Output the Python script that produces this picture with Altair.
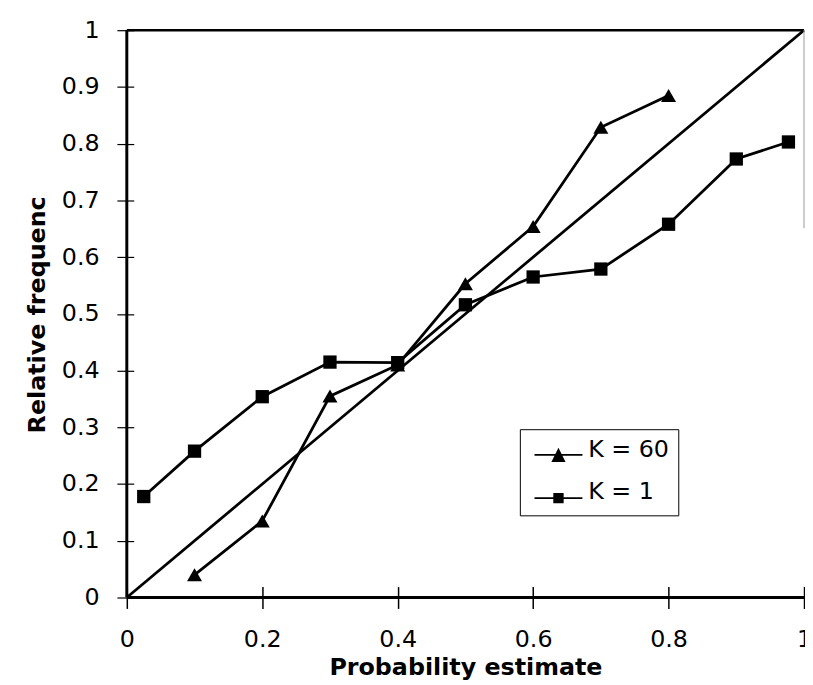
import altair as alt
import pandas as pd

# ---- data ----
series_names = ["K = 60", "K = 1"]
k60_x = [0.1, 0.2, 0.3, 0.4, 0.5, 0.6, 0.7, 0.8]
k60_y = [0.04, 0.135, 0.355, 0.41, 0.553, 0.654, 0.829, 0.885]
k1_x = [0.025, 0.1, 0.2, 0.3, 0.4, 0.5, 0.6, 0.7, 0.8, 0.9, 0.977]
k1_y = [0.178, 0.258, 0.354, 0.415, 0.414, 0.516, 0.565, 0.579, 0.658, 0.773, 0.803]
diag_x = [0, 1]
diag_y = [0, 1]
x_ticks = [0, 0.2, 0.4, 0.6, 0.8, 1]
y_ticks = [0, 0.1, 0.2, 0.3, 0.4, 0.5, 0.6, 0.7, 0.8, 0.9, 1]

df = pd.concat([
    pd.DataFrame({"x": k60_x, "y": k60_y, "series": series_names[0]}),
    pd.DataFrame({"x": k1_x, "y": k1_y, "series": series_names[1]}),
], ignore_index=True)
diag = pd.DataFrame({"x": diag_x, "y": diag_y})

W, H = 684, 573
FONT = "DejaVu Sans"

xs = alt.Scale(domain=[0, 1], nice=False, zero=False)
ys = alt.Scale(domain=[0, 1], nice=False, zero=False)

x_axis = alt.Axis(
    values=x_ticks, format="~g", title="Probability estimate",
    offset=-11, tickSize=22, tickColor="black", tickWidth=1.5,
    domain=False, grid=False, labelFlush=False,
    labelFont=FONT, labelFontSize=24, labelColor="black", labelPadding=19,
    titleFont=FONT, titleFontSize=24, titleFontWeight="bold", titleColor="black",
    titleBaseline="alphabetic", titleY=89,
)
y_axis = alt.Axis(
    values=y_ticks, format="~g", title="Relative frequenc",
    offset=-7, tickSize=17, tickColor="black", tickWidth=1.2,
    domain=False, grid=False, labelFlush=False,
    labelFont=FONT, labelFontSize=24, labelColor="black", labelPadding=18,
    titleFont=FONT, titleFontSize=24, titleFontWeight="bold", titleColor="black",
    titleAngle=270, titleBaseline="alphabetic", titleX=-90, titleY=287,
)

X = alt.X("x:Q", scale=xs, axis=x_axis)
Y = alt.Y("y:Q", scale=ys, axis=y_axis)

diag_line = alt.Chart(diag).mark_line(color="black", strokeWidth=2.8).encode(
    x=alt.X("x:Q", scale=xs), y=alt.Y("y:Q", scale=ys))

lines = alt.Chart(df).mark_line(color="black", strokeWidth=2.8).encode(
    x=X, y=Y, detail="series:N", order="x:Q")

tri_pts = alt.Chart(df).transform_filter(
    alt.datum.series == series_names[0]
).mark_point(shape="triangle-up", filled=True, size=230, opacity=1, color="black").encode(
    x=alt.X("x:Q", scale=xs), y=alt.Y("y:Q", scale=ys))

sq_pts = alt.Chart(df).transform_filter(
    alt.datum.series == series_names[1]
).mark_point(shape="square", filled=True, size=180, opacity=1, color="black").encode(
    x=alt.X("x:Q", scale=xs), y=alt.Y("y:Q", scale=ys))

# legend symbols: thin filled bar (the line) plus the marker
tri_path = "M-4.4,0.75H4.4V1.05H-4.4ZM-1.3,2.2L0,-0.4L1.3,2.2Z"
sq_path = "M-4.4,1.05H4.4V1.35H-4.4ZM-0.95,0.25H0.95V2.15H-0.95Z"

legend_layer = alt.Chart(pd.DataFrame({"series": series_names})).mark_point(
    filled=True, opacity=0, size=121, color="black"
).encode(
    shape=alt.Shape(
        "series:N",
        scale=alt.Scale(domain=series_names, range=[tri_path, sq_path]),
        legend=alt.Legend(
            title=None, orient="none", legendX=397, legendY=403,
            padding=9, rowPadding=14, symbolOffset=18, labelOffset=18,
            symbolSize=121, symbolOpacity=1, symbolFillColor="black",
            labelFont=FONT, labelFontSize=24, labelColor="black",
            strokeColor="black", fillColor="white",
        ),
    )
)

one = pd.DataFrame({"a": [0]})
frame_left = alt.Chart(one).mark_rule(color="black", strokeWidth=3).encode(
    x=alt.value(0), y=alt.value(0), y2=alt.value(H))
frame_bottom = alt.Chart(one).mark_rule(color="black", strokeWidth=3).encode(
    x=alt.value(0), x2=alt.value(W), y=alt.value(H))
frame_top = alt.Chart(one).mark_rule(color="black", strokeWidth=2.5).encode(
    x=alt.value(0), x2=alt.value(W), y=alt.value(0))
frame_right = alt.Chart(one).mark_rule(color="#999999", strokeWidth=1).encode(
    x=alt.value(W), y=alt.value(0), y2=alt.value(200))

chart = alt.layer(
    diag_line, lines, tri_pts, sq_pts, legend_layer,
    frame_left, frame_bottom, frame_top, frame_right,
).properties(
    width=W, height=H,
    autosize="none",
    padding={"left": 120, "top": 19, "right": 1, "bottom": 92},
    background="white",
).configure_view(stroke="transparent")

chart.save("out.html", embed_options={"renderer": "svg", "actions": False})
